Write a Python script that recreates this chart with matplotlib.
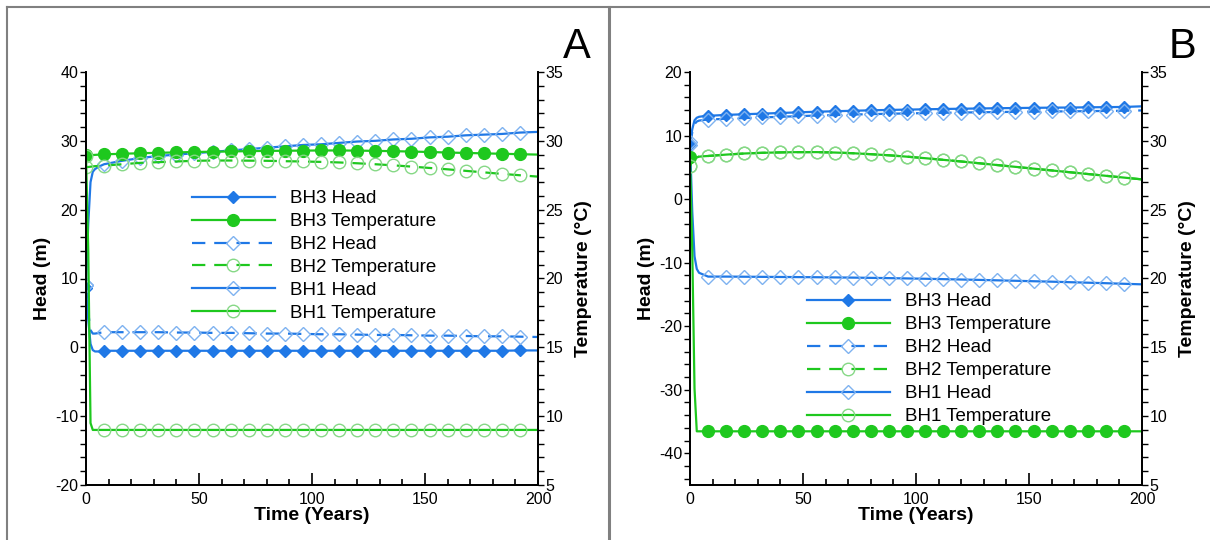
import matplotlib
matplotlib.use("Agg")
import matplotlib.pyplot as plt
from matplotlib.ticker import MultipleLocator
from matplotlib.lines import Line2D

plt.rcParams['font.family'] = ['Liberation Sans', 'DejaVu Sans']
plt.rcParams['axes.unicode_minus'] = False

# time axis (years), markers every 8 years
time = [0, 1, 2, 3, 4, 6, 8, 16, 24, 32, 40, 48, 56, 64, 72, 80, 88, 96,
        104, 112, 120, 128, 136, 144, 152, 160, 168, 176, 184, 192, 200]

# ---- panel A ----
a_bh3_head = [8.6, 4.0, 0.5, -0.4, -0.6, -0.6, -0.5, -0.5, -0.5, -0.5, -0.5, -0.5,
              -0.5, -0.5, -0.5, -0.5, -0.5, -0.5, -0.5, -0.5, -0.5, -0.5, -0.5,
              -0.5, -0.5, -0.5, -0.5, -0.5, -0.5, -0.45, -0.45]
a_bh2_head = [9.0, 5.0, 2.5, 2.0, 2.0, 2.1, 2.2, 2.2, 2.2, 2.2, 2.15, 2.15, 2.1,
              2.1, 2.05, 2.0, 2.0, 1.95, 1.9, 1.9, 1.85, 1.8, 1.8, 1.75, 1.7,
              1.7, 1.65, 1.6, 1.6, 1.55, 1.5]
a_bh1_head = [9.0, 18.0, 24.0, 25.5, 25.9, 26.3, 26.6, 27.1, 27.5, 27.8, 28.0,
              28.2, 28.4, 28.6, 28.8, 29.0, 29.2, 29.4, 29.5, 29.7, 29.9, 30.0,
              30.2, 30.3, 30.5, 30.6, 30.8, 30.9, 31.0, 31.2, 31.3]
a_bh3_temp = [28.95, 28.95, 28.95, 28.97, 28.98, 29.0, 29.02, 29.06, 29.1, 29.13,
              29.16, 29.19, 29.21, 29.23, 29.25, 29.27, 29.28, 29.29, 29.3, 29.3,
              29.29, 29.27, 29.25, 29.22, 29.19, 29.15, 29.12, 29.09, 29.06,
              29.03, 29.0]
a_bh2_temp = [28.1, 28.1, 28.12, 28.14, 28.16, 28.18, 28.2, 28.3, 28.4, 28.45,
              28.5, 28.55, 28.57, 28.57, 28.56, 28.55, 28.52, 28.5, 28.47, 28.43,
              28.37, 28.3, 28.22, 28.13, 28.03, 27.93, 27.82, 27.71, 27.6, 27.5,
              27.4]
a_bh1_temp = [28.9, 22.0, 9.5, 9.0, 9.0, 9.0, 9.0, 9.0, 9.0, 9.0, 9.0, 9.0, 9.0,
              9.0, 9.0, 9.0, 9.0, 9.0, 9.0, 9.0, 9.0, 9.0, 9.0, 9.0, 9.0, 9.0,
              9.0, 9.0, 9.0, 9.0, 9.0]

# ---- panel B ----
b_bh3_head = [8.7, 11.0, 12.4, 12.8, 12.95, 13.05, 13.1, 13.25, 13.35, 13.45,
              13.55, 13.65, 13.75, 13.82, 13.9, 13.97, 14.03, 14.08, 14.13,
              14.18, 14.22, 14.26, 14.3, 14.33, 14.36, 14.39, 14.41, 14.44,
              14.47, 14.5, 14.6]
b_bh2_head = [8.5, 10.5, 11.8, 12.2, 12.35, 12.45, 12.5, 12.65, 12.75, 12.85,
              12.95, 13.05, 13.15, 13.22, 13.3, 13.37, 13.43, 13.48, 13.53,
              13.58, 13.62, 13.66, 13.7, 13.73, 13.76, 13.79, 13.81, 13.84,
              13.87, 13.9, 13.95]
b_bh1_head = [9.0, -2.0, -9.0, -11.0, -11.6, -11.9, -12.2, -12.2, -12.22, -12.24,
              -12.26, -12.28, -12.3, -12.33, -12.36, -12.4, -12.44, -12.49,
              -12.54, -12.6, -12.66, -12.72, -12.79, -12.86, -12.93, -13.0,
              -13.08, -13.16, -13.24, -13.33, -13.42]
b_bh3_temp = [28.8, 22.0, 12.0, 8.9, 8.9, 8.9, 8.9, 8.9, 8.9, 8.9, 8.9, 8.9, 8.9,
              8.9, 8.9, 8.9, 8.9, 8.9, 8.9, 8.9, 8.9, 8.9, 8.9, 8.9, 8.9, 8.9,
              8.9, 8.9, 8.9, 8.9, 8.9]
b_bh1_temp = [28.2, 28.5, 28.7, 28.8, 28.85, 28.88, 28.9, 29.0, 29.08, 29.13,
              29.16, 29.18, 29.18, 29.15, 29.1, 29.03, 28.95, 28.85, 28.74,
              28.62, 28.5, 28.37, 28.24, 28.11, 27.98, 27.85, 27.72, 27.59,
              27.46, 27.33, 27.2]
b_bh2_temp = b_bh1_temp  # lies under BH1 temperature

labels = ["BH3 Head", "BH3 Temperature", "BH2 Head", "BH2 Temperature",
          "BH1 Head", "BH1 Temperature"]

blue = '#1f78e6'
green = '#1ec81e'
blue_open = '#7eb2f0'
green_open = '#86d886'
dash = (0, (6, 4))
marks = [0] + list(range(6, 30))

# style per series: (color, linestyle, marker, ms, face, edge)
styles = [
    (blue, '-', 'D', 6.5, blue, blue),
    (green, '-', 'o', 8.5, green, green),
    (blue, dash, 'D', 7, 'none', blue_open),
    (green, dash, 'o', 9, 'none', green_open),
    (blue, '-', 'D', 7, 'none', blue_open),
    (green, '-', 'o', 9, 'none', green_open),
]

fig = plt.figure(figsize=(12.1, 5.4), dpi=100)


def panel(rect, heads, temps, ylim, legend_xy, letter, letter_x):
    ax = fig.add_axes(rect)
    ax2 = ax.twinx()
    series = [heads[0], temps[0], heads[1], temps[1], heads[2], temps[2]]
    handles = []
    for i, (vals, st) in enumerate(zip(series, styles)):
        c, ls, mk, ms, fc, ec = st
        target = ax if i % 2 == 0 else ax2
        ln, = target.plot(time, vals, color=c, linestyle=ls, lw=1.6,
                          marker=mk, ms=ms, mfc=fc, mec=ec, mew=1.0,
                          markevery=marks)
        handles.append(ln)

    ax.set_xlim(0, 200)
    ax.set_ylim(*ylim)
    ax2.set_ylim(5, 35)
    ax.xaxis.set_major_locator(MultipleLocator(50))
    ax.xaxis.set_minor_locator(MultipleLocator(10))
    ax.yaxis.set_major_locator(MultipleLocator(10))
    ax.yaxis.set_minor_locator(MultipleLocator(2))
    ax2.yaxis.set_major_locator(MultipleLocator(5))
    ax2.yaxis.set_minor_locator(MultipleLocator(1))

    for a in (ax, ax2):
        a.spines['top'].set_visible(False)
        for s in a.spines.values():
            s.set_linewidth(1.3)
    ax.tick_params(axis='x', which='both', direction='in', top=False,
                   labelsize=11.5, pad=5, width=1.2)
    ax.tick_params(axis='x', which='major', length=9)
    ax.tick_params(axis='x', which='minor', length=4)
    ax.tick_params(axis='y', which='both', direction='out', labelsize=11.5,
                   pad=1, width=1.0, length=4.5)
    ax2.tick_params(axis='y', which='both', direction='out', labelsize=11.5,
                    pad=1, width=1.0, length=4.5)

    ax.set_xlabel("Time (Years)", fontsize=14, fontweight='bold', labelpad=0)
    ax.set_ylabel("Head (m)", fontsize=14, fontweight='bold', labelpad=3)
    ax2.set_ylabel("Temperature (°C)", fontsize=14, fontweight='bold', labelpad=8)

    leg = ax2.legend(handles, labels, loc='upper left', bbox_to_anchor=legend_xy,
                     frameon=False, fontsize=13.5, handlelength=4.4,
                     handletextpad=0.8, labelspacing=0.31, numpoints=1,
                     borderpad=0, borderaxespad=0)
    leg.set_zorder(5)
    fig.text(letter_x, 1 - 47 / 540, letter, fontsize=30, ha='center',
             va='center')
    return ax, ax2


panel([86 / 1210, 55 / 540, 452 / 1210, 413 / 540],
      [a_bh3_head, a_bh2_head, a_bh1_head],
      [a_bh3_temp, a_bh2_temp, a_bh1_temp],
      (-20, 40), (0.235, 0.714), "A", 577 / 1210)
panel([690 / 1210, 55 / 540, 452 / 1210, 413 / 540],
      [b_bh3_head, b_bh2_head, b_bh1_head],
      [b_bh3_temp, b_bh2_temp, b_bh1_temp],
      (-45, 20), (0.259, 0.464), "B", 1182 / 1210)

# outer frame lines
frame = dict(color='#808080', lw=1.5, transform=fig.transFigure)
fig.add_artist(Line2D([7 / 1210, 1], [1 - 7 / 540, 1 - 7 / 540], **frame))
fig.add_artist(Line2D([7 / 1210, 7 / 1210], [0, 1 - 7 / 540], **frame))
fig.add_artist(Line2D([609 / 1210, 609 / 1210], [0, 1 - 7 / 540], color='#808080',
                      lw=2.2, transform=fig.transFigure))

fig.savefig("out.png", dpi=100)
